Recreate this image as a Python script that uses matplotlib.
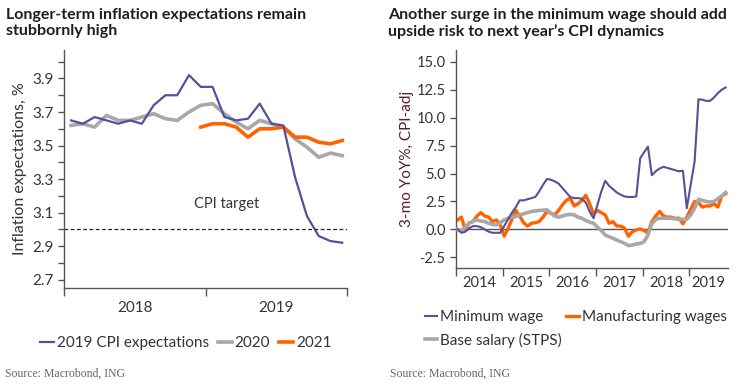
import numpy as np
import matplotlib
matplotlib.use("Agg")
import matplotlib.pyplot as plt
from matplotlib.ticker import MultipleLocator, FixedLocator, NullFormatter

plt.rcParams['font.family'] = ['Lato', 'DejaVu Sans']

# ---- left chart: longer-term inflation expectations (monthly, 2018-2019)
exp_2019 = [3.65, 3.63, 3.67, 3.65, 3.63, 3.65, 3.63, 3.74, 3.80, 3.80, 3.92, 3.85,
            3.85, 3.67, 3.65, 3.66, 3.75, 3.63, 3.62, 3.31, 3.08, 2.96, 2.93, 2.92]
exp_2020 = [3.62, 3.63, 3.61, 3.68, 3.65, 3.65, 3.67, 3.69, 3.66, 3.65, 3.70, 3.74,
            3.75, 3.69, 3.64, 3.60, 3.65, 3.63, 3.61, 3.54, 3.49, 3.43, 3.455, 3.44]
exp_2021 = [3.61, 3.63, 3.63, 3.61, 3.55, 3.60, 3.60, 3.61, 3.55, 3.55, 3.52, 3.51, 3.53]
exp_2021_start = 11
left_years = ['2018', '2019']
cpi_target = 3.0

# ---- right chart: 3-mo YoY%, CPI-adjusted (monthly, Jan 2014 - Oct 2019)
min_wage = [0.0, -0.3, -0.2, 0.1, 0.3, 0.3, 0.2, 0.0, -0.2, -0.3, -0.3, -0.3,
            0.3, 0.9, 1.5, 2.0, 2.6, 2.6, 2.7, 2.8, 2.9, 3.4, 4.0, 4.5,
            4.45, 4.3, 4.1, 3.7, 3.3, 2.9, 2.8, 2.8, 2.75, 2.4, 1.6, 1.0,
            2.2, 3.4, 4.35, 3.9, 3.6, 3.3, 3.1, 2.95, 2.9, 2.9, 2.95, 6.35,
            6.9, 7.4, 4.85, 5.2, 5.45, 5.6, 5.5, 5.4, 5.3, 5.2, 5.25, 1.9,
            4.0, 6.05, 11.65, 11.6, 11.5, 11.5, 11.8, 12.2, 12.5, 12.7]
mfg_wages = [0.85, 1.1, -0.05, 0.6, 0.7, 1.2, 1.5, 1.2, 1.1, 0.7, 0.85, 0.4,
             -0.6, 0.1, 0.9, 1.7, 1.2, 0.6, 0.3, 0.55, 0.6, 0.7, 1.1, 1.6,
             1.45, 1.3, 1.7, 2.2, 2.6, 2.8, 2.1, 2.3, 2.6, 3.05, 2.3, 1.4,
             1.7, 1.5, 1.3, 0.55, 0.7, 0.3, 0.3, 0.1, -0.6, -0.2, -0.05, 0.05,
             -0.1, -0.3, 0.7, 1.2, 1.6, 1.2, 1.1, 1.1, 1.0, 1.0, 0.5, 1.1,
             1.8, 2.5, 2.4, 2.0, 2.1, 2.1, 2.3, 2.0, 3.0, 3.2]
base_salary = [0.0, -0.1, 0.2, 0.55, 0.75, 0.85, 0.75, 0.7, 0.55, 0.45, 0.4, 0.6,
               0.85, 1.0, 1.1, 1.15, 1.3, 1.4, 1.5, 1.6, 1.65, 1.7, 1.72, 1.75,
               1.45, 1.2, 1.1, 1.2, 1.3, 1.35, 1.3, 1.1, 1.0, 0.8, 0.65, 0.55,
               0.2, -0.1, -0.5, -0.65, -0.8, -0.95, -1.1, -1.25, -1.45, -1.4, -1.3, -1.25,
               -1.1, -0.5, 0.5, 0.9, 1.0, 1.0, 1.0, 1.0, 0.95, 0.9, 0.9, 0.9,
               1.3, 1.9, 2.7, 2.6, 2.5, 2.45, 2.5, 2.75, 3.0, 3.3]
right_years = ['2014', '2015', '2016', '2017', '2018', '2019']

BLUE = '#525199'
ORANGE = '#FF6200'
GREY = '#A8A8A8'
TXT = '#333340'
SPINE = '#555555'

fig = plt.figure(figsize=(7.43, 3.86), dpi=100)

def style(ax):
    for s in ['top', 'right']:
        ax.spines[s].set_visible(False)
    for s in ['left', 'bottom']:
        ax.spines[s].set_color(SPINE)
        ax.spines[s].set_linewidth(1.0)
    ax.tick_params(which='both', colors=SPINE, labelcolor=TXT, length=4, width=1)

# left panel
ax1 = fig.add_axes([64/743, 1-288/386, 283/743, 238/386])
style(ax1)
x1 = np.arange(len(exp_2019)) + 0.6
x21 = np.arange(len(exp_2021)) + exp_2021_start + 0.6
ax1.plot(x1, exp_2020, color=GREY, lw=2.6, label='2020')
ax1.plot(x21, exp_2021, color=ORANGE, lw=2.6, label='2021')
ax1.plot(x1, exp_2019, color=BLUE, lw=1.6, label='2019 CPI expectations')
ax1.axhline(cpi_target, color='#222222', lw=0.9, ls=(0, (3, 2)))
ax1.text(11.0, 3.15, 'CPI target', color=TXT, fontsize=10.5, va='center')
ax1.set_xlim(0, 24)
ax1.set_ylim(2.65, 4.07)
ax1.yaxis.set_major_locator(FixedLocator(np.arange(2.7, 3.95, 0.2)))
ax1.yaxis.set_minor_locator(MultipleLocator(0.1))
ax1.set_yticklabels([f'{v:.1f}' for v in np.arange(2.7, 3.95, 0.2)], fontsize=11)
ax1.xaxis.set_major_locator(FixedLocator([0, 12, 24]))
ax1.xaxis.set_major_formatter(NullFormatter())
ax1.xaxis.set_minor_locator(FixedLocator([6, 18]))
ax1.set_xticklabels(left_years, minor=True, fontsize=11)
ax1.tick_params(axis='x', which='minor', length=0, pad=9)
ax1.tick_params(axis='x', which='major', length=6)
ax1.set_ylabel('Inflation expectations, %', fontsize=11.5, color=TXT, labelpad=4)
h, l = ax1.get_legend_handles_labels()
order = [2, 0, 1]
ax1.legend([h[i] for i in order], [l[i] for i in order], loc='upper center',
           bbox_to_anchor=(0.43, -0.145), ncol=3, frameon=False, fontsize=11,
           handlelength=0.9, handletextpad=0.2, columnspacing=0.6, labelcolor=TXT)

# right panel
ax2 = fig.add_axes([456/743, 1-268/386, 272/743, 218/386])
style(ax2)
x2 = np.arange(len(min_wage)) + 0.4
ax2.axhline(0, color='#555555', lw=1.0, zorder=1)
ax2.plot(x2, mfg_wages, color=ORANGE, lw=2.4, label='Manufacturing wages', zorder=2)
ax2.plot(x2, base_salary, color=GREY, lw=2.6, label='Base salary (STPS)', zorder=3)
ax2.plot(x2, min_wage, color=BLUE, lw=1.5, label='Minimum wage', zorder=4)
ax2.set_xlim(0, 70)
ax2.set_ylim(-3.45, 16.05)
ax2.yaxis.set_major_locator(FixedLocator(np.arange(-2.5, 15.1, 2.5)))
ax2.set_yticklabels([f'{v:.1f}' for v in np.arange(-2.5, 15.1, 2.5)], fontsize=10.5)
ax2.xaxis.set_major_locator(FixedLocator(np.arange(0, 61, 12)))
ax2.xaxis.set_major_formatter(NullFormatter())
ax2.xaxis.set_minor_locator(FixedLocator([6, 18, 30, 42, 54, 65]))
ax2.set_xticklabels(right_years, minor=True, fontsize=10.5)
ax2.tick_params(axis='x', which='minor', length=0, pad=6)
ax2.tick_params(axis='x', which='major', length=6)
ax2.set_ylabel('3-mo YoY%, CPI-adj', fontsize=11, color='#55202c', labelpad=2)
h, l = ax2.get_legend_handles_labels()
# column-wise fill: Minimum wage / Base salary in col 1, Manufacturing in col 2
order = [2, 1, 0]
ax2.legend([h[i] for i in order], [l[i] for i in order], loc='upper left',
           bbox_to_anchor=(-0.165, -0.13), ncol=2, frameon=False, fontsize=11,
           handlelength=0.8, handletextpad=0.2, columnspacing=0.3, labelspacing=0.55,
           labelcolor=TXT)

# titles and sources
fig.text(6/743, 1-8/386, 'Longer-term inflation expectations remain\nstubbornly high',
         fontsize=11.5, fontweight='bold', color='#1e1e1e', va='top', ha='left', linespacing=1.15)
fig.text(388/743, 1-8/386, 'Another surge in the minimum wage should add\nupside risk to next year\u2019s CPI dynamics',
         fontsize=11.5, fontweight='bold', color='#1e1e1e', va='top', ha='left', linespacing=1.15)
fig.text(5/743, 1-374/386, 'Source: Macrobond, ING', fontsize=8.5, color='#666666',
         family=['Liberation Serif', 'DejaVu Serif'], va='center')
fig.text(390/743, 1-374/386, 'Source: Macrobond, ING', fontsize=8.5, color='#666666',
         family=['Liberation Serif', 'DejaVu Serif'], va='center')

fig.savefig('out.png', dpi=100)
